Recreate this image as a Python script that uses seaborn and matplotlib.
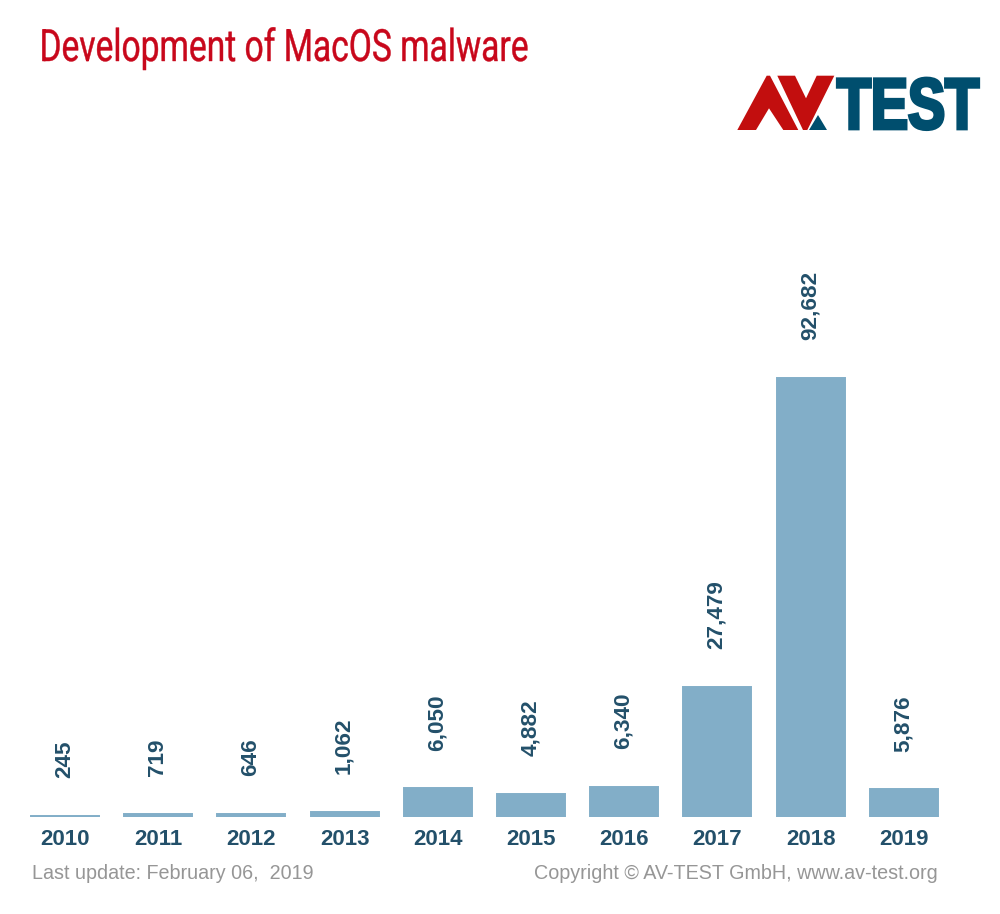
import matplotlib
matplotlib.use("Agg")
import matplotlib.pyplot as plt
import matplotlib.patheffects as pe
from matplotlib.patches import Polygon
from matplotlib.transforms import Affine2D
import pandas as pd
import seaborn as sns

# values
years = ["2010", "2011", "2012", "2013", "2014", "2015", "2016", "2017", "2018", "2019"]
samples = [245, 719, 646, 1062, 6050, 4882, 6340, 27479, 92682, 5876]

W, H = 1000, 914
BAR = "#82aec8"
DARK = "#23506a"
GREY = "#969696"
RED = "#c8071b"
LOGO_RED = "#c20e0e"
LOGO_BLUE = "#004e6e"

sns.set_theme(style="white")
plt.rcParams["font.family"] = ["Liberation Sans", "DejaVu Sans"]


class Squeeze(pe.AbstractPathEffect):
    """Narrow a text around x0 (pixels), the fonts here have no condensed cut."""

    def __init__(self, x0, sx, stroke=0.0):
        super().__init__()
        self.x0, self.sx, self.stroke = x0, sx, stroke

    def draw_path(self, renderer, gc, tpath, affine, rgbFace=None):
        squeezed = affine + Affine2D().translate(-self.x0, 0).scale(self.sx, 1).translate(self.x0, 0)
        gc0 = renderer.new_gc()
        gc0.copy_properties(gc)
        gc0.set_foreground(rgbFace)
        gc0.set_linewidth(self.stroke)
        gc0.set_joinstyle("miter")
        renderer.draw_path(gc0, tpath, squeezed, rgbFace)
        gc0.restore()


def px(x, y):
    # pixel position in the picture -> figure fraction
    return x / W, 1 - y / H


fig = plt.figure(figsize=(W / 100, H / 100), dpi=100)
ax = fig.add_axes([18.4 / W, 1 - 817 / H, 932 / W, 557 / H])

df = pd.DataFrame({"year": years, "samples": samples})
sns.barplot(data=df, x="year", y="samples", color=BAR, saturation=1, width=0.73,
            edgecolor=BAR, linewidth=1.4, ax=ax)
ax.set_xlim(-0.5, 9.5)
ax.set_ylim(0, 117594)
labels = ax.bar_label(ax.containers[0], labels=[f"{v:,}" for v in samples], rotation=90,
                      padding=27, color=DARK, fontsize=16.2, fontweight="bold")
for lab in labels:
    x, y = lab.xyann
    lab.xyann = (x - 0.5, y)
ax.set_xlabel("")
ax.set_ylabel("")
ax.set_yticks([])
ax.tick_params(axis="x", length=0, pad=8.5, labelsize=16, labelcolor=DARK)
for lab in ax.get_xticklabels():
    lab.set_fontweight("bold")
sns.despine(ax=ax, left=True, bottom=True)

title = fig.text(*px(39.5, 61), "Development of MacOS malware", color=RED, fontsize=32,
                 family="Roboto", va="baseline", ha="left")
title.set_path_effects([Squeeze(39.5, 0.755, stroke=0.3)])
fig.text(*px(32, 879), "Last update: February 06,  2019", color=GREY, fontsize=14.2,
         va="baseline", ha="left")
fig.text(*px(938, 879), "Copyright © AV-TEST GmbH, www.av-test.org", color=GREY, fontsize=14.2,
         va="baseline", ha="right")

# logo
logo = [
    ([(737.3, 130), (766.7, 75.7), (770, 75.7), (798.3, 130), (783.3, 130), (769, 108.3), (756, 130)], LOGO_RED),
    ([(777.3, 75.7), (795, 75.7), (806, 98.3), (816.7, 75.7), (834.3, 75.7), (807.3, 130), (803, 130)], LOGO_RED),
    ([(809, 130), (818, 115), (827, 130)], LOGO_BLUE),
]
for pts, col in logo:
    fig.add_artist(Polygon([px(*p) for p in pts], closed=True, facecolor=col, edgecolor="none",
                           transform=fig.transFigure))
test = fig.text(*px(979, 128.7), "TEST", color=LOGO_BLUE, fontsize=52, fontweight="bold",
                va="baseline", ha="right")
test.set_path_effects([Squeeze(979, 0.77, stroke=2.4)])

fig.savefig("out.png", dpi=100, facecolor="white")
